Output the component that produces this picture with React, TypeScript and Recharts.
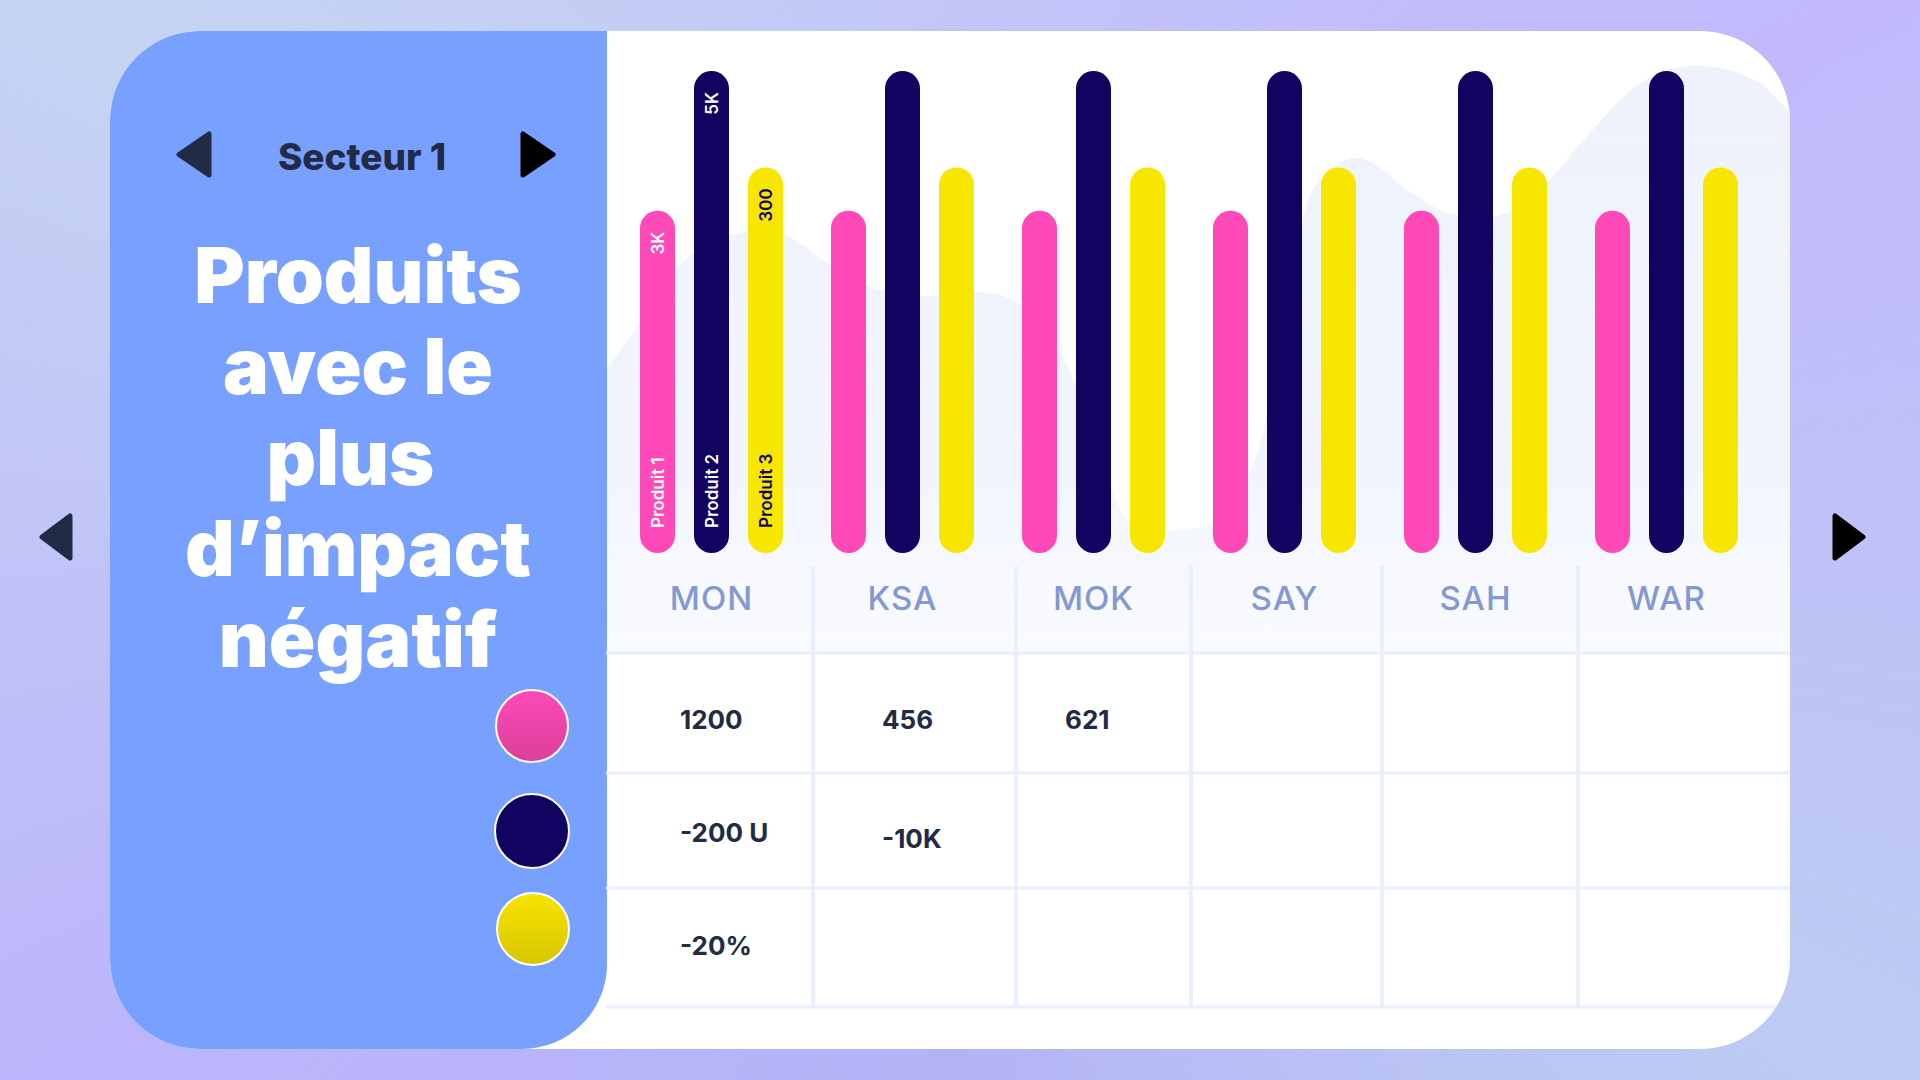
import React from 'react';
import { BarChart, Bar, XAxis, YAxis, LabelList, AreaChart, Area } from 'recharts';

// regions and the three product series (bar heights, relative scale)
const regions = ['MON', 'KSA', 'MOK', 'SAY', 'SAH', 'WAR'];
const produit1 = [71, 71, 71, 71, 71, 71];
const produit2 = [100, 100, 100, 100, 100, 100];
const produit3 = [80, 80, 80, 80, 80, 80];
const productNames = ['Produit 1', 'Produit 2', 'Produit 3'];
const valueLabels = ['3K', '5K', '300'];

// soft background wave behind the bars (position %, level %)
const waveX = [0, 2.9, 6.0, 9.6, 13.6, 19.4, 22.6, 27.4, 31.8, 35.9, 39.4, 41.7, 45.1, 50.2, 54.8, 57.3, 59.5, 63.4, 68.2, 71.2, 74.7, 79.2, 82.5, 87.3, 92.1, 97.0, 100];
const waveLevel = [45.5, 53.2, 61.9, 66.7, 68.0, 61.9, 58.7, 57.4, 58.0, 54.7, 44.2, 31.0, 19.5, 20.1, 31.0, 51.9, 73.8, 79.6, 73.8, 70.7, 70.1, 75.1, 82.3, 91.5, 94.4, 92.1, 86.8];

// table under the chart
const row1 = ['1200', '456', '621', '', '', ''];
const row2 = ['-200 U', '-10K', '', '', '', ''];
const row3 = ['-20%', '', '', '', '', ''];

const sectorLabel = 'Secteur 1';
const titleLines = ['Produits', 'avec le', 'plus ', 'd\u2019impact', 'négatif'];

const PINK = '#ff49b9';
const NAVY = '#120361';
const YELLOW = '#f7e600';
const INK = '#222b45';
const FONT = 'Inter, "Open Sans", sans-serif';

const barData = regions.map((region, i) => ({
  region,
  p1: produit1[i],
  p2: produit2[i],
  p3: produit3[i],
}));

const waveData = waveX.map((x, i) => ({ x, level: waveLevel[i] }));

const makeBarLabel = (series: number) => (props: any) => {
  const { x, y, width, height, index } = props;
  if (index !== 0) return null;
  const cx = x + width / 2;
  const color = series === 2 ? NAVY : '#ffffff';
  const top = y + 21;
  const bottom = y + height - 25;
  const common = {
    fill: color,
    fontSize: 17,
    fontWeight: 600,
    fontFamily: FONT,
    dy: '0.36em',
  };
  return (
    <g>
      <text x={cx} y={top} transform={`rotate(-90 ${cx} ${top})`} textAnchor="end" {...common}>
        {valueLabels[series]}
      </text>
      <text x={cx} y={bottom} transform={`rotate(-90 ${cx} ${bottom})`} textAnchor="start" {...common}>
        {productNames[series]}
      </text>
    </g>
  );
};

const RegionTick = (props: any) => {
  const { x, y, payload } = props;
  return (
    <text
      x={x}
      y={y + 57}
      textAnchor="middle"
      fill="#8299d3"
      fontSize={33}
      fontWeight={500}
      letterSpacing={1}
      fontFamily={FONT}
    >
      {payload.value}
    </text>
  );
};

const Arrow = ({ x, y, w, h, dir, color }: { x: number; y: number; w: number; h: number; dir: 'left' | 'right'; color: string }) => {
  const pts =
    dir === 'left'
      ? `${x + w},${y} ${x + w},${y + h} ${x},${y + h / 2}`
      : `${x},${y} ${x},${y + h} ${x + w},${y + h / 2}`;
  return <polygon points={pts} fill={color} stroke={color} strokeWidth={5} strokeLinejoin="round" />;
};

// table layout (card coordinates)
const colLines = [703, 906, 1081, 1272, 1468];
const rowLines = [622, 742, 857, 976];
const cellX = [570, 772, 955, 1140, 1330, 1530];
const rowBaselines = [698, 811, 924];

export default function App() {
  const rows = [row1, row2, row3];
  return (
    <div
      style={{
        position: 'fixed',
        left: 0,
        top: 0,
        width: 1920,
        height: 1080,
        overflow: 'hidden',
        background:
          'conic-gradient(from 0deg at 50% 50%, #c2c6f7 0deg, #c1b9fc 60deg, #bdcbf3 120deg, #b3b3f6 180deg, #bcb5fb 240deg, #c6d4f3 300deg, #c2c6f7 360deg)',
      }}
    >
      {/* outer navigation arrows */}
      <svg width={1920} height={1080} style={{ position: 'absolute', left: 0, top: 0 }}>
        <Arrow x={42} y={516} w={28} h={42} dir="left" color={INK} />
        <Arrow x={1835} y={516} w={28} h={42} dir="right" color="#000000" />
      </svg>

      <div
        style={{
          position: 'absolute',
          left: 110,
          top: 31,
          width: 1680,
          height: 1018,
          borderRadius: 90,
          overflow: 'hidden',
          background: '#ffffff',
        }}
      >
        <div style={{ position: 'absolute', left: 496, top: 0 }}>
          <AreaChart width={1184} height={622} data={waveData} margin={{ top: 0, right: 0, bottom: 0, left: 0 }}>
            <defs>
              <linearGradient id="waveFill" x1="0" y1="0" x2="0" y2="1">
                <stop offset="0%" stopColor="#eef2fc" />
                <stop offset="70%" stopColor="#f2f5fd" />
                <stop offset="100%" stopColor="#fafbff" />
              </linearGradient>
            </defs>
            <XAxis type="number" dataKey="x" domain={[0, 100]} hide />
            <YAxis domain={[0, 100]} hide />
            <Area
              type="monotone"
              dataKey="level"
              stroke="none"
              fill="url(#waveFill)"
              fillOpacity={1}
              isAnimationActive={false}
            />
          </AreaChart>
        </div>

        <div style={{ position: 'absolute', left: 496, top: 0 }}>
          <BarChart
            width={1184}
            height={622}
            data={barData}
            margin={{ top: 40, right: 28, bottom: 0, left: 10 }}
            barSize={35}
            barGap={19}
          >
            <XAxis
              dataKey="region"
              axisLine={false}
              tickLine={false}
              tickSize={0}
              tickMargin={0}
              interval={0}
              height={100}
              tick={<RegionTick />}
            />
            <YAxis domain={[0, 100]} hide />
            <Bar dataKey="p1" fill={PINK} radius={17.5} isAnimationActive={false}>
              <LabelList dataKey="p1" content={makeBarLabel(0)} />
            </Bar>
            <Bar dataKey="p2" fill={NAVY} radius={17.5} isAnimationActive={false}>
              <LabelList dataKey="p2" content={makeBarLabel(1)} />
            </Bar>
            <Bar dataKey="p3" fill={YELLOW} radius={17.5} isAnimationActive={false}>
              <LabelList dataKey="p3" content={makeBarLabel(2)} />
            </Bar>
          </BarChart>
        </div>

        {/* left panel */}
        <div
          style={{
            position: 'absolute',
            left: 0,
            top: 0,
            width: 497,
            height: 1018,
            background: '#78a0fe',
            borderBottomRightRadius: 85,
          }}
        />

        <svg width={1680} height={1018} style={{ position: 'absolute', left: 0, top: 0 }}>
          <defs>
            <linearGradient id="pinkDot" x1="0" y1="0" x2="0" y2="1">
              <stop offset="0%" stopColor="#fb4bb9" />
              <stop offset="100%" stopColor="#dc3f9b" />
            </linearGradient>
            <linearGradient id="yellowDot" x1="0" y1="0" x2="0" y2="1">
              <stop offset="0%" stopColor="#f6e500" />
              <stop offset="100%" stopColor="#d8c500" />
            </linearGradient>
          </defs>

          {/* table grid */}
          {colLines.map((x) => (
            <line key={'c' + x} x1={x} y1={535} x2={x} y2={976} stroke="#e9effd" strokeWidth={4} />
          ))}
          {rowLines.map((y) => (
            <line key={'r' + y} x1={496} y1={y} x2={1680} y2={y} stroke="#e9effd" strokeWidth={3} />
          ))}
          {rows.map((row, r) =>
            row.map((v, c) =>
              v ? (
                <text
                  key={`${r}-${c}`}
                  x={cellX[c]}
                  y={rowBaselines[r] + (r === 1 && c === 1 ? 6 : 0)}
                  fill={INK}
                  fontSize={26}
                  fontWeight={700}
                  fontFamily={FONT}
                >
                  {v}
                </text>
              ) : null
            )
          )}

          {/* sector selector */}
          <Arrow x={69} y={103} w={30} h={41} dir="left" color={INK} />
          <Arrow x={413} y={103} w={30} h={41} dir="right" color="#000000" />
          <text x={252} y={139} textAnchor="middle" fill={INK} fontSize={37} fontWeight={800} fontFamily={FONT}>
            {sectorLabel}
          </text>

          {/* title */}
          {titleLines.map((line, i) => (
            <text
              key={line}
              x={248}
              y={272 + i * 91}
              textAnchor="middle"
              fill="#ffffff"
              fontSize={77}
              fontWeight={900}
              fontFamily={FONT}
              style={{ whiteSpace: 'pre' }}
            >
              {line}
            </text>
          ))}

          {/* legend dots */}
          <circle cx={422} cy={695} r={36} fill="url(#pinkDot)" stroke="#ffffff" strokeWidth={2} />
          <circle cx={422} cy={800} r={37} fill={NAVY} stroke="#ffffff" strokeWidth={2} />
          <circle cx={423} cy={898} r={36} fill="url(#yellowDot)" stroke="#ffffff" strokeWidth={2} />
        </svg>
      </div>
    </div>
  );
}
